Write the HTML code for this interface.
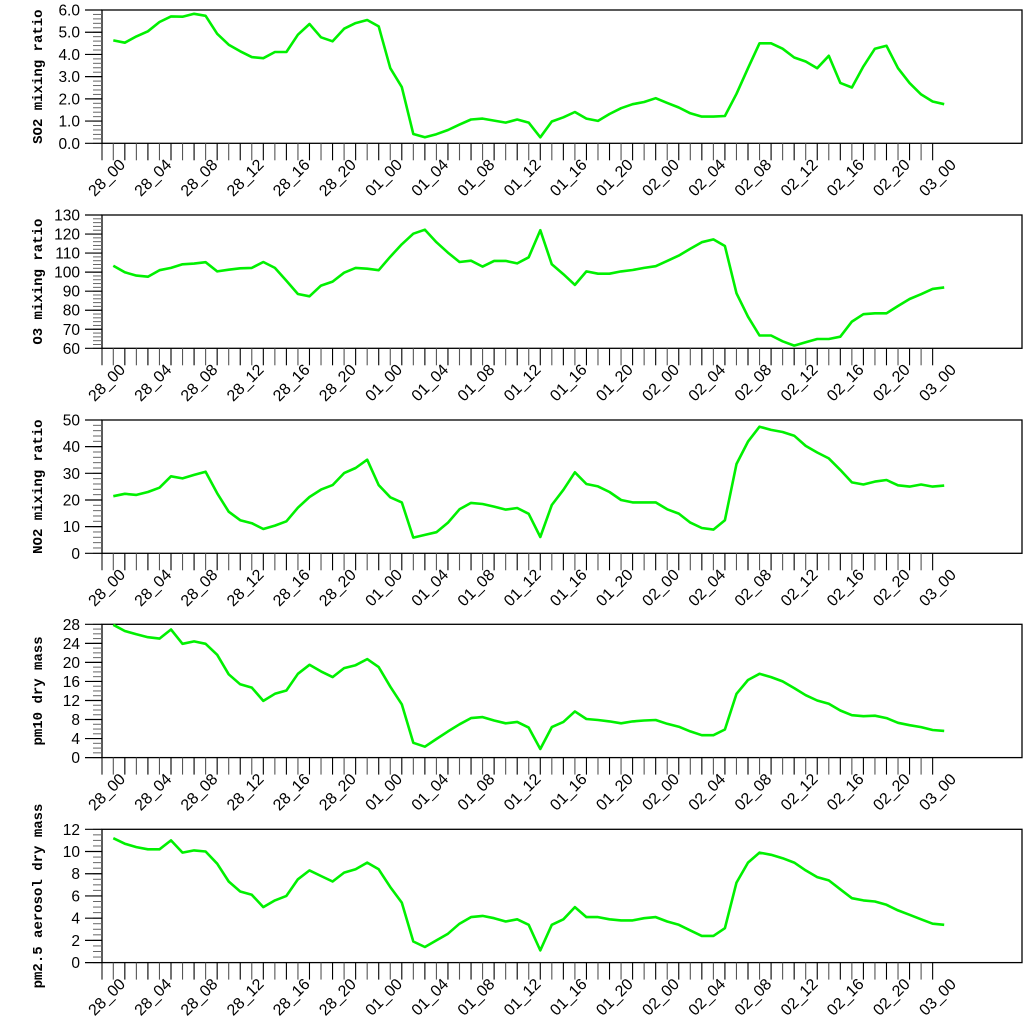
<!DOCTYPE html>
<html><head><meta charset="utf-8"><style>
body{margin:0;background:#fff;}
svg{display:block;}
</style></head><body>
<svg id="chart" width="1024" height="1024" viewBox="0 0 1024 1024"></svg>
<script>
const timeLabels = ["28_00","28_04","28_08","28_12","28_16","28_20","01_00","01_04","01_08","01_12","01_16","01_20","02_00","02_04","02_08","02_12","02_16","02_20","03_00"];
const so2Values = [4.63,4.53,4.81,5.04,5.46,5.71,5.70,5.83,5.74,4.93,4.44,4.14,3.88,3.83,4.11,4.11,4.89,5.37,4.77,4.59,5.16,5.41,5.55,5.26,3.38,2.53,0.42,0.27,0.41,0.60,0.84,1.07,1.11,1.02,0.93,1.07,0.93,0.27,0.98,1.17,1.41,1.11,1.01,1.32,1.58,1.76,1.86,2.03,1.82,1.61,1.35,1.20,1.20,1.23,2.23,3.38,4.50,4.50,4.26,3.86,3.68,3.38,3.94,2.72,2.51,3.46,4.26,4.39,3.38,2.71,2.20,1.88,1.76];
const o3Values = [103.4,99.9,98.2,97.6,101.0,102.2,104.1,104.5,105.2,100.4,101.3,102.0,102.2,105.3,102.2,95.5,88.5,87.3,92.9,95.0,99.7,102.2,101.8,101.0,108.1,114.6,120.2,122.3,115.7,110.2,105.3,106.0,102.9,105.9,105.9,104.6,107.8,122.0,104.1,98.9,93.3,100.4,99.2,99.2,100.4,101.1,102.2,103.1,105.9,108.7,112.3,115.7,117.2,113.7,88.9,76.6,66.7,66.7,63.7,61.4,63.2,64.9,64.9,66.1,74.0,77.9,78.4,78.4,82.2,85.9,88.4,91.2,92.0];
const no2Values = [21.4,22.3,21.9,23.0,24.6,28.9,28.1,29.4,30.6,22.5,15.6,12.4,11.3,9.1,10.4,12.0,17.1,21.1,23.9,25.6,30.1,32.0,35.1,25.6,21.0,19.1,5.9,6.9,7.9,11.5,16.5,18.9,18.5,17.5,16.4,17.0,14.8,6.1,18.1,23.8,30.4,26.0,25.1,23.0,20.0,19.1,19.1,19.1,16.5,14.9,11.5,9.5,8.9,12.4,33.5,41.9,47.5,46.3,45.5,44.1,40.3,37.8,35.6,31.3,26.6,25.8,26.9,27.5,25.5,25.0,25.8,25.0,25.4];
const pm10Values = [27.9,26.6,25.9,25.3,25.0,26.9,23.9,24.4,23.9,21.6,17.5,15.4,14.7,11.9,13.4,14.1,17.6,19.5,18.1,16.9,18.8,19.4,20.7,19.0,14.9,11.2,3.1,2.3,3.9,5.5,7.0,8.3,8.5,7.8,7.2,7.5,6.3,1.8,6.4,7.5,9.7,8.1,7.9,7.6,7.2,7.6,7.8,7.9,7.1,6.5,5.5,4.7,4.7,5.9,13.4,16.3,17.6,16.9,16.0,14.6,13.1,12.0,11.3,9.9,8.9,8.7,8.8,8.3,7.3,6.8,6.4,5.8,5.6];
const pm25Values = [11.2,10.7,10.4,10.2,10.2,11.0,9.9,10.1,10.0,8.9,7.3,6.4,6.1,5.0,5.6,6.0,7.5,8.3,7.8,7.3,8.1,8.4,9.0,8.4,6.8,5.4,1.9,1.4,2.0,2.6,3.5,4.1,4.2,4.0,3.7,3.9,3.4,1.1,3.4,3.9,5.0,4.1,4.1,3.9,3.8,3.8,4.0,4.1,3.7,3.4,2.9,2.4,2.4,3.1,7.2,9.0,9.9,9.7,9.4,9.0,8.3,7.7,7.4,6.6,5.8,5.6,5.5,5.2,4.7,4.3,3.9,3.5,3.4];
const so2Ticks = ["0.0","1.0","2.0","3.0","4.0","5.0","6.0"];
const o3Ticks = ["60","70","80","90","100","110","120","130"];
const no2Ticks = ["0","10","20","30","40","50"];
const pm10Ticks = ["0","4","8","12","16","20","24","28"];
const pm25Ticks = ["0","2","4","6","8","10","12"];

const NS = "http://www.w3.org/2000/svg";
const svg = document.getElementById("chart");
const X0 = 113.3, DX = 11.54, LEFT = 102, RIGHT = 1022, H = 133.3;
function xAt(i){ return X0 + i*DX; }
function mk(tag, attrs, parent){
  const e = document.createElementNS(NS, tag);
  for (const k in attrs) e.setAttribute(k, attrs[k]);
  (parent||svg).appendChild(e);
  return e;
}
const panels = [
  {key:"so2", title:"SO2 mixing ratio", top:10, min:0, max:6, minor:0.2, vals:so2Values, ticks:so2Ticks},
  {key:"o3", title:"O3 mixing ratio", top:215, min:60, max:130, minor:2, vals:o3Values, ticks:o3Ticks},
  {key:"no2", title:"NO2 mixing ratio", top:420, min:0, max:50, minor:2, vals:no2Values, ticks:no2Ticks},
  {key:"pm10", title:"pm10 dry mass", top:624.3, min:0, max:28, minor:1, vals:pm10Values, ticks:pm10Ticks},
  {key:"pm25", title:"pm2.5 aerosol dry mass", top:829.3, min:0, max:12, minor:0.5, vals:pm25Values, ticks:pm25Ticks}
];
panels.forEach(p => {
  const g = mk("g", {});
  
  
  const bottom = p.top + H;
  const yAt = v => bottom - (v - p.min) / (p.max - p.min) * H;
  const fr = mk("rect", {x:LEFT, y:p.top, width:RIGHT-LEFT, height:H, fill:"none", stroke:"#000", "stroke-width":1.3}, g);
  
  
  const nMin = Math.round((p.max - p.min)/p.minor);
  for (let k=0;k<=nMin;k++){
    const y = yAt(p.min + k*p.minor);
    mk("line", {x1:93, x2:LEFT, y1:y, y2:y, stroke:"#666", "stroke-width":1}, g);
  }
  p.ticks.forEach(t => {
    const y = yAt(parseFloat(t));
    mk("line", {x1:85, x2:LEFT, y1:y, y2:y, stroke:"#000", "stroke-width":1.2}, g);
    const tx = mk("text", {x:80, y:y+5.5, "text-anchor":"end", "font-family":"Liberation Sans, sans-serif", "font-size":15.5, fill:"#000"}, g);
    tx.textContent = t;
    
    
  });
  const cy = p.top + H/2;
  const yt = mk("text", {x:0, y:0, transform:`translate(42,${cy}) rotate(-90)`, "text-anchor":"middle", "font-family":"Liberation Mono, monospace", "font-weight":"bold", "font-size":14, fill:"#000"}, g);
  yt.textContent = p.title;
  
  
  mk("line", {x1:LEFT, x2:LEFT, y1:bottom, y2:bottom+17, stroke:"#000", "stroke-width":1}, g);
  for (let i=0;i<72;i++){
    const x = xAt(i);
    mk("line", {x1:x, x2:x, y1:bottom, y2:bottom+17, stroke: i%2? "#000":"#555", "stroke-width":1.1}, g);
  }
  timeLabels.forEach((lab, j) => {
    const x = xAt(j*4) - 6, y = bottom + 35;
    const t = mk("text", {x:0, y:0, transform:`translate(${x},${y}) rotate(-45)`, "text-anchor":"middle", "dominant-baseline":"central", "font-family":"Liberation Sans, sans-serif", "font-size":16, fill:"#000"}, g);
    t.textContent = lab;
    
    
  });
  const pts = p.vals.map((v,i) => xAt(i).toFixed(1) + "," + yAt(v).toFixed(1)).join(" ");
  const line = mk("polyline", {points:pts, fill:"none", stroke:"#00f000", "stroke-width":2.6, "stroke-linejoin":"round"}, g);
  
  
});
</script>
</body></html>
